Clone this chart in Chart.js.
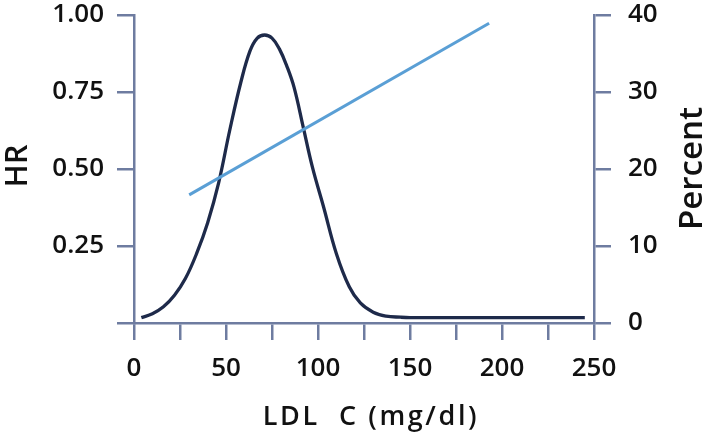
<!DOCTYPE html>
<html><head><meta charset="utf-8">
<script src="https://cdn.jsdelivr.net/npm/chart.js@4/dist/chart.umd.min.js"></script>
<style>html,body{margin:0;padding:0;background:#fff;}</style>
</head><body>
<canvas id="c" width="708" height="440"></canvas>
<script>
// LDL-C distribution (Percent, right axis)
const ldlX = [4, 10, 16, 22, 28, 34, 40, 46, 52, 58, 63, 67, 71, 75, 79, 83, 87, 92, 97, 103, 110, 117, 123, 130, 137, 145, 150, 175, 200, 225, 245];
const percentValues = [0.7, 1.2, 2.1, 3.6, 5.8, 9.0, 13.0, 18.2, 25.0, 31.2, 35.3, 37.0, 37.4, 37.0, 35.6, 33.4, 30.6, 25.4, 20.2, 15.1, 9.0, 4.7, 2.6, 1.4, 0.9, 0.75, 0.7, 0.7, 0.7, 0.7, 0.7];
// Hazard ratio line (left axis)
const hrX = [30, 193];
const hrValues = [0.416, 0.973];
// Axis titles
const xAxisTitle = 'LDL  C (mg/dl)';
const leftAxisTitle = 'HR';
const rightAxisTitle = 'Percent';

const axisColor = '#6e7ca0';
const textColor = '#111111';
const fontFamily = '"Open Sans", "DejaVu Sans", sans-serif';
const tickFont = {family: fontFamily, size: 26, weight: '600'};

const titlePlugin = {
  id: 'axisTitles',
  afterDraw(chart) {
    const ctx = chart.ctx;
    ctx.save();
    ctx.fillStyle = textColor;
    ctx.textAlign = 'center';
    ctx.textBaseline = 'alphabetic';
    ctx.font = '600 27px ' + fontFamily;
    if ('letterSpacing' in ctx) ctx.letterSpacing = '2.6px';
    ctx.fillText(xAxisTitle, 371, 425);
    if ('letterSpacing' in ctx) ctx.letterSpacing = '0px';
    ctx.font = '600 31px ' + fontFamily;
    ctx.save();
    ctx.translate(27, 166);
    ctx.rotate(-Math.PI / 2);
    ctx.fillText(leftAxisTitle, 0, 0);
    ctx.restore();
    ctx.font = '600 33px ' + fontFamily;
    ctx.save();
    ctx.translate(702, 168.5);
    ctx.rotate(-Math.PI / 2);
    ctx.fillText(rightAxisTitle, 0, 0);
    ctx.restore();
    ctx.restore();
  }
};

const gridCfg = {drawOnChartArea: false, drawTicks: true, tickLength: 17, color: axisColor, lineWidth: 2.5};
const borderCfg = {display: true, color: axisColor, width: 2.5};

function fitY(width) {
  return function (s) {
    s.width = width;
    s.paddingTop = 15;
    s.paddingBottom = 0;
  };
}

new Chart(document.getElementById('c'), {
  type: 'line',
  data: {
    datasets: [
      {
        label: 'HR',
        data: hrX.map((x, i) => ({x: x, y: hrValues[i]})),
        yAxisID: 'y',
        borderColor: '#5a9fd5',
        borderWidth: 3,
        pointRadius: 0,
        fill: false
      },
      {
        label: 'Percent',
        data: ldlX.map((x, i) => ({x: x, y: percentValues[i]})),
        yAxisID: 'y2',
        borderColor: '#1e2a4a',
        borderWidth: 3.3,
        pointRadius: 0,
        tension: 0.4,
        fill: false
      }
    ]
  },
  options: {
    responsive: false,
    animation: false,
    layout: {padding: 0},
    plugins: {legend: {display: false}, tooltip: {enabled: false}},
    scales: {
      x: {
        type: 'linear', position: 'bottom', min: 0, max: 250,
        afterFit(s) { s.height = 117; },
        ticks: {stepSize: 25, autoSkip: false, maxRotation: 0, padding: 13, color: textColor, font: tickFont,
          callback: v => (v % 50 === 0 ? String(v) : '')},
        grid: gridCfg, border: borderCfg
      },
      y: {
        position: 'left', min: 0, max: 1,
        afterFit: fitY(134),
        ticks: {stepSize: 0.25, padding: 13, color: textColor, font: tickFont,
          callback: v => (v === 0 ? '' : v.toFixed(2))},
        grid: gridCfg, border: borderCfg
      },
      y2: {
        position: 'right', min: 0, max: 40,
        afterFit: fitY(114),
        ticks: {stepSize: 10, padding: 17, color: textColor, font: tickFont},
        grid: gridCfg, border: borderCfg
      }
    }
  },
  plugins: [titlePlugin]
});
</script>
</body></html>
